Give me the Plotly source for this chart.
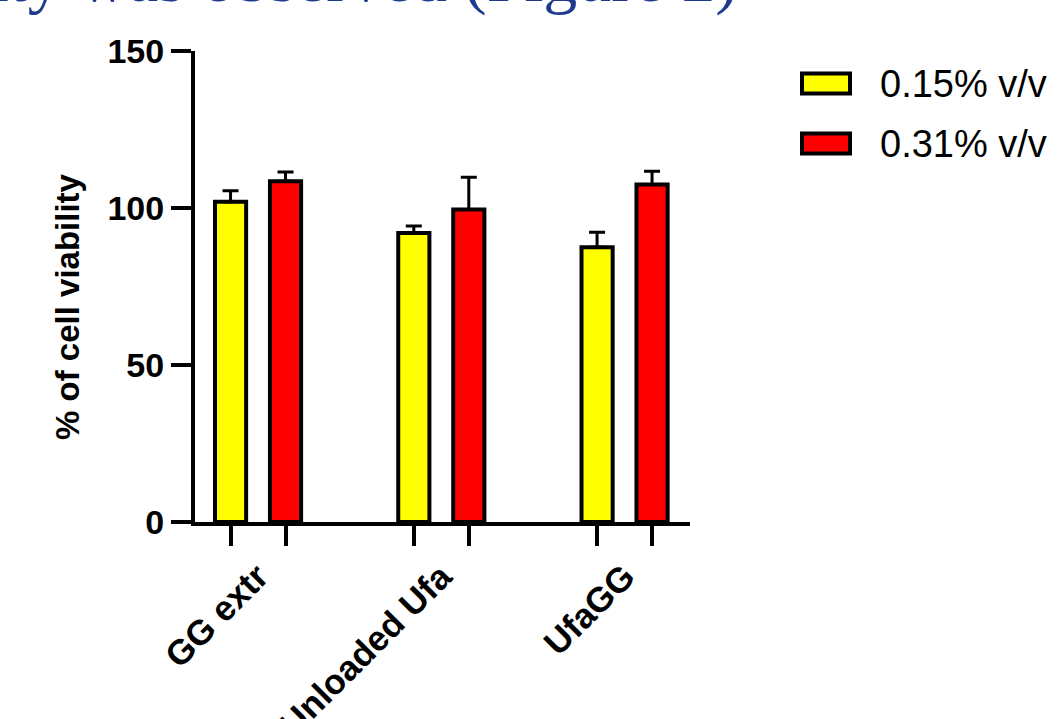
import plotly.graph_objects as go

# ---- data ----
categories = ["GG extr", "Unloaded Ufa", "UfaGG"]
series_names = ["0.15% v/v", "0.31% v/v"]
values_015 = [102, 92, 87.5]
errors_015 = [3.5, 2.3, 4.8]
values_031 = [108.5, 99.5, 107.5]
errors_031 = [3.0, 10.3, 4.2]
y_ticks = [0, 50, 100, 150]

colors = ["#FFFF00", "#FF0000"]
offset = 0.15
bar_w = 0.17
FONT = "Arial, Liberation Sans, sans-serif"

# plot area in pixels
L, R, T, B = 195, 690, 51, 522
W, H = 1064, 719


def px_x(p):
    return (p - L) / (R - L)


def px_y(p):
    return (B - p) / (B - T)


fig = go.Figure()
for k, (vals, errs) in enumerate([(values_015, errors_015), (values_031, errors_031)]):
    xs = [i + (-offset if k == 0 else offset) for i in range(len(categories))]
    fig.add_trace(go.Bar(
        x=xs, y=vals, width=bar_w, name=series_names[k],
        marker=dict(color=colors[k], line=dict(color="black", width=4)),
        error_y=dict(type="data", array=errs, arrayminus=[0] * len(errs),
                     symmetric=False, color="black", thickness=3, width=8),
        showlegend=False,
    ))

bar_centers = sorted([i - offset for i in range(3)] + [i + offset for i in range(3)])

fig.update_layout(
    width=W, height=H,
    margin=dict(l=L, r=W - R, t=T, b=H - B, autoexpand=False),
    plot_bgcolor="white", paper_bgcolor="white",
    barmode="overlay",
    font=dict(family=FONT, color="black"),
    xaxis=dict(
        range=[-0.344, 2.357], showgrid=False, zeroline=False, automargin=False,
        showline=True, linewidth=4, linecolor="black",
        tickmode="array", tickvals=[0, 1, 2], ticktext=categories,
        ticks="", tickangle=-45, ticklabelstandoff=16,
        tickfont=dict(size=35, family=FONT, weight="bold"),
        minor=dict(tickmode="array", tickvals=bar_centers, ticks="outside",
                   ticklen=20, tickwidth=4, tickcolor="black", showgrid=False),
    ),
    yaxis=dict(
        range=[0, 150], showgrid=False, zeroline=False, automargin=False,
        showline=True, linewidth=4, linecolor="black",
        tickmode="array", tickvals=y_ticks,
        ticks="outside", ticklen=20, tickwidth=4, tickcolor="black",
        tickfont=dict(size=34, family=FONT, weight="bold"),
    ),
)

# y-axis title
fig.add_annotation(xref="paper", yref="paper", x=px_x(67), y=px_y(307),
                   text="% of cell viability", textangle=-90, showarrow=False,
                   xanchor="center", yanchor="middle",
                   font=dict(size=33, family=FONT, weight="bold", color="black"))

# x-axis line extension to the left (GraphPad style)
fig.add_shape(type="line", xref="paper", yref="y", x0=px_x(175), x1=0, y0=0, y1=0,
              line=dict(color="black", width=4))

# legend (drawn manually to match large swatches)
legend_rows = [83.5, 143.5]
for k, cy in enumerate(legend_rows):
    fig.add_shape(type="rect", xref="paper", yref="paper",
                  x0=px_x(802), x1=px_x(850), y0=px_y(cy + 10), y1=px_y(cy - 10),
                  fillcolor=colors[k], line=dict(color="black", width=4))
    fig.add_annotation(xref="paper", yref="paper", x=px_x(878), y=px_y(cy),
                       text=series_names[k], showarrow=False, xanchor="left", yanchor="middle",
                       font=dict(size=38, family=FONT, color="black"))

# cropped title text at top (from source document)
fig.add_annotation(xref="paper", yref="paper", x=px_x(740), y=px_y(18),
                   text="ity was observed (Figure 2)", showarrow=False,
                   xanchor="right", yanchor="bottom",
                   font=dict(size=68, family="Liberation Serif, Times New Roman, serif", color="#1F3A8C"))

fig.write_html("out.html", config={"displayModeBar": False},
               post_script="document.body.style.margin='0';")
